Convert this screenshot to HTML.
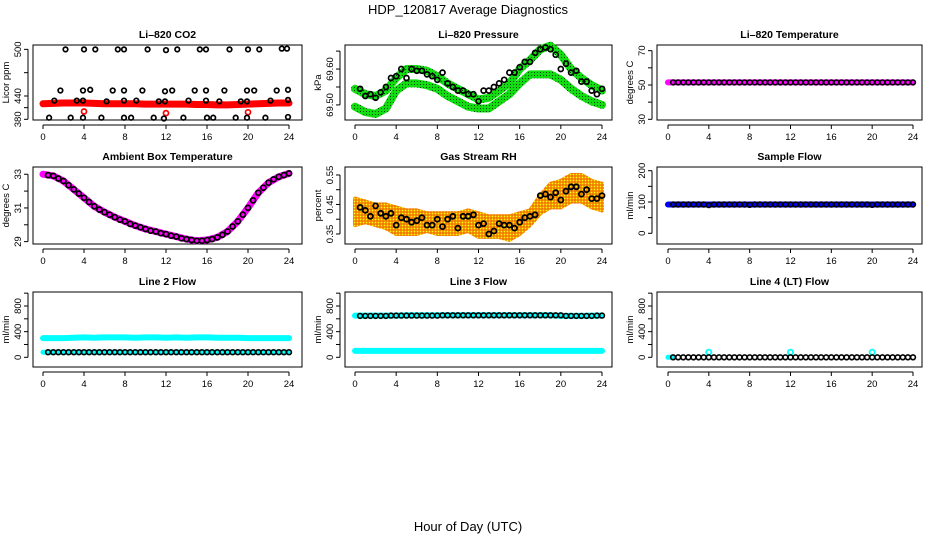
<!DOCTYPE html>
<html><head><meta charset="utf-8">
<style>
html,body{margin:0;padding:0;background:#fff;}
svg{display:block;font-family:"Liberation Sans",sans-serif;}
</style></head>
<body>
<svg id="fig" width="936" height="540" viewBox="0 0 936 540" xmlns="http://www.w3.org/2000/svg">
<defs>
<pattern id="dotsG" width="3" height="3" patternUnits="userSpaceOnUse"><rect width="3" height="3" fill="#11dd11"/><rect width="1" height="1" fill="#004400"/></pattern>
<pattern id="dotsO" width="3" height="3" patternUnits="userSpaceOnUse"><rect width="3" height="3" fill="#f4a000"/><rect width="1" height="1" fill="#ffff00"/><rect x="1.5" y="1.5" width="1" height="1" fill="#ee2200"/></pattern>
</defs>
<text x="468" y="14" text-anchor="middle" font-size="13">HDP_120817  Average Diagnostics</text>
<text x="468" y="531" text-anchor="middle" font-size="13">Hour of Day (UTC)</text>
</svg>
<script>
// ---- data ----
const xTicks = [0,4,8,12,16,20,24];
const halfHours = [0.5,1,1.5,2,2.5,3,3.5,4,4.5,5,5.5,6,6.5,7,7.5,8,8.5,9,9.5,10,10.5,11,11.5,12,12.5,13,13.5,14,14.5,15,15.5,16,16.5,17,17.5,18,18.5,19,19.5,20,20.5,21,21.5,22,22.5,23,23.5,24];
const hours = [0,1,2,3,4,5,6,7,8,9,10,11,12,13,14,15,16,17,18,19,20,21,22,23,24];

// Li-820 CO2
const co2Hours = [2.2,4.0,5.1,7.3,7.9,10.2,12.0,13.1,15.3,15.9,18.2,20.0,21.1,23.3,23.8,
 1.7,3.9,4.6,6.8,7.9,9.7,11.9,12.6,14.8,15.9,17.7,19.9,20.6,22.8,23.9,
 1.1,3.3,3.9,6.2,7.9,9.1,11.3,11.9,14.2,15.9,17.2,19.3,19.9,22.2,23.9,
 0.6,2.7,3.9,5.7,7.9,8.6,10.8,11.8,13.7,16.0,16.6,18.8,19.9,21.7,23.9];
const co2Values = [500,500,500,500,500,500,499,500,500,500,500,500,500,501,501,
 447,447,448,447,447,447,446,447,447,447,447,447,447,447,448,
 434,434,434,433,434,434,433,433,434,434,433,433,433,434,435,
 412,412,412,412,412,412,412,411,412,412,412,412,412,412,413];
const co2Band = [430,430.5,431,431,431,430.5,430,430,430,430,429.5,429.5,429.5,429.5,429.5,429,429,428.5,428.5,429,429.5,430,430.5,431,431];
const co2OutHours = [4.0,12.0,20.0];
const co2OutValues = [420,418,419];

// Li-820 Pressure
const presUpper = [69.545,69.53,69.525,69.54,69.575,69.60,69.60,69.595,69.58,69.56,69.545,69.53,69.515,69.52,69.54,69.56,69.60,69.625,69.655,69.665,69.64,69.60,69.575,69.555,69.54];
const presLower = [69.495,69.48,69.475,69.49,69.54,69.56,69.56,69.555,69.545,69.525,69.51,69.495,69.49,69.49,69.51,69.53,69.56,69.585,69.585,69.585,69.57,69.545,69.525,69.51,69.50];
const presMean = [69.545,69.525,69.53,69.52,69.535,69.55,69.575,69.58,69.60,69.575,69.60,69.595,69.595,69.585,69.58,69.57,69.59,69.56,69.55,69.54,69.54,69.53,69.53,69.51,69.54,69.54,69.55,69.56,69.57,69.59,69.59,69.605,69.62,69.62,69.645,69.655,69.66,69.655,69.64,69.60,69.615,69.59,69.595,69.565,69.565,69.54,69.53,69.545];

// Li-820 Temperature
const tempBand = [51.5,51.5,51.5,51.5,51.5,51.5,51.5,51.5,51.5,51.5,51.5,51.5,51.5,51.5,51.5,51.5,51.5,51.5,51.5,51.5,51.5,51.5,51.5,51.5,51.5];
const tempMean = [51.5,51.5,51.5,51.5,51.5,51.5,51.5,51.5,51.5,51.5,51.5,51.5,51.5,51.5,51.5,51.5,51.5,51.5,51.5,51.5,51.5,51.5,51.5,51.5,51.5,51.5,51.5,51.5,51.5,51.5,51.5,51.5,51.5,51.5,51.5,51.5,51.5,51.5,51.5,51.5,51.5,51.5,51.5,51.5,51.5,51.5,51.5,51.5];

// Ambient Box Temperature
const ambBand = [33.0,32.9,32.6,32.1,31.6,31.1,30.75,30.45,30.2,29.95,29.75,29.6,29.45,29.3,29.15,29.05,29.1,29.25,29.6,30.2,31.0,31.9,32.5,32.85,33.05];
const ambMean = [32.95,32.9,32.75,32.6,32.35,32.1,31.85,31.6,31.35,31.1,30.9,30.75,30.6,30.45,30.3,30.2,30.05,29.95,29.85,29.75,29.65,29.6,29.5,29.45,29.35,29.3,29.2,29.15,29.1,29.05,29.05,29.1,29.15,29.25,29.4,29.6,29.9,30.2,30.6,31.0,31.45,31.9,32.2,32.5,32.7,32.85,32.95,33.05];

// Gas Stream RH
const rhUpper = [0.47,0.46,0.45,0.45,0.44,0.43,0.43,0.42,0.42,0.42,0.42,0.43,0.42,0.41,0.41,0.41,0.42,0.43,0.48,0.52,0.53,0.55,0.55,0.53,0.52];
const rhLower = [0.38,0.39,0.38,0.37,0.35,0.35,0.35,0.36,0.35,0.35,0.35,0.36,0.34,0.34,0.34,0.33,0.35,0.38,0.42,0.44,0.44,0.46,0.46,0.44,0.43];
const rhMean = [0.44,0.43,0.41,0.445,0.42,0.41,0.42,0.38,0.405,0.40,0.39,0.395,0.405,0.38,0.38,0.40,0.375,0.40,0.41,0.37,0.41,0.41,0.415,0.38,0.385,0.35,0.36,0.385,0.38,0.38,0.37,0.39,0.405,0.41,0.415,0.48,0.485,0.475,0.49,0.465,0.495,0.51,0.51,0.485,0.50,0.47,0.47,0.48];

// Sample Flow
const sfBand = [92,92,92,92,92,92,92,92,92,92,92,92,92,92,92,92,92,92,92,92,92,92,92,92,92];
const sfMean = [92,92,92,92,92,92,92,90,92,92,92,92,92,92,92,91,92,92,92,92,92,92,92,92,92,92,92,92,92,92,92,92,92,92,92,92,92,92,92,91,92,92,92,92,92,92,92,92];

// Line 2 Flow
const l2Upper = [300,300,300,305,310,305,310,310,310,305,310,310,305,310,305,310,310,305,305,305,300,300,300,300,300];
const l2Lower = [80,80,80,80,80,80,80,80,80,80,80,80,80,80,80,80,80,80,80,80,80,80,80,80,80];
const l2Mean = [80,80,80,80,80,80,80,80,80,80,80,80,80,80,80,80,80,80,80,80,80,80,80,80,80,80,80,80,80,80,80,80,80,80,80,80,80,80,80,80,80,80,80,80,80,80,80,80];

// Line 3 Flow
const l3Upper = [650,650,650,650,650,655,655,655,655,655,655,655,655,655,655,655,655,655,655,655,645,645,645,650,650];
const l3Lower = [100,100,100,100,100,100,100,100,100,100,100,100,100,100,100,100,100,100,100,100,100,100,100,100,100];
const l3Mean = [645,645,645,645,645,645,650,650,650,650,650,650,650,650,650,650,655,655,655,655,655,655,655,655,655,655,655,655,655,655,655,655,655,655,655,655,655,655,655,655,645,645,645,645,645,645,650,650];

// Line 4 (LT) Flow
const l4Band = [0,0];
const l4BandHours = [0,0.4];
const l4Mean = [0,0,0,0,0,0,0,0,0,0,0,0,0,0,0,0,0,0,0,0,0,0,0,0,0,0,0,0,0,0,0,0,0,0,0,0,0,0,0,0,0,0,0,0,0,0,0,0];
const l4OutHours = [4,12,20];
const l4OutValues = [80,80,80];

// ---- drawing ----
const NS = "http://www.w3.org/2000/svg";
const svg = document.getElementById('fig');
function mk(tag, attrs, parent){ const e=document.createElementNS(NS,tag); for(const k in attrs) e.setAttribute(k,attrs[k]); (parent||svg).appendChild(e); return e; }

const cols = [{l:33,r:302,x0:43,x24:289},{l:345,r:612,x0:355,x24:602},{l:657,r:922,x0:668,x24:913}];
const rows = [{t:45,b:120},{t:167,b:244},{t:292,b:367}];

function panel(ci, ri, name, title, ylab, yTop, yBot, yTicks, yLabels){
  const c=cols[ci], r=rows[ri];
  const g = mk('g',{});
  
  
  const xs = h => c.x0 + (c.x24-c.x0)*h/24;
  const ys = v => r.b - (v-yBot)/(yTop-yBot)*(r.b-r.t);
  const t = mk('text',{x:(c.l+c.r)/2,y:r.t-7,'text-anchor':'middle','font-size':'10.5','font-weight':'bold'},g);
  t.textContent = title;
  
  
  const box = mk('rect',{x:c.l,y:r.t,width:c.r-c.l,height:r.b-r.t,fill:'none',stroke:'#000','stroke-width':1},g);
  
  
  const xa = mk('g',{},g);
  
  
  mk('line',{x1:xs(0),x2:xs(24),y1:r.b+5,y2:r.b+5,stroke:'#000'},xa);
  xTicks.forEach(h=>{
    mk('line',{x1:xs(h),x2:xs(h),y1:r.b+5,y2:r.b+9,stroke:'#000'},xa);
    const tl = mk('text',{x:xs(h),y:r.b+20,'text-anchor':'middle','font-size':'9.5'},xa);
    tl.textContent = h;
  });
  const ya = mk('g',{},g);
  
  
  mk('line',{x1:c.l-5,x2:c.l-5,y1:ys(yTicks[0]),y2:ys(yTicks[yTicks.length-1]),stroke:'#000'},ya);
  yTicks.forEach((v,i)=>{
    mk('line',{x1:c.l-9,x2:c.l-5,y1:ys(v),y2:ys(v),stroke:'#000'},ya);
    if(yLabels[i]!==''){
      const yl = mk('text',{x:0,y:0,'text-anchor':'middle','font-size':'9.5',transform:`translate(${c.l-12},${ys(v)}) rotate(-90)`},ya);
      yl.textContent = yLabels[i];
    }
  });
  const yt = mk('text',{x:0,y:0,'text-anchor':'middle','font-size':'9.5',transform:`translate(${c.l-24},${(r.t+r.b)/2}) rotate(-90)`},g);
  yt.textContent = ylab;
  
  
  return {g,xs,ys};
}
function band(p, name, hs, vals, color, w){
  const d = hs.map((h,i)=>(i?'L':'M')+p.xs(h).toFixed(1)+','+p.ys(vals[i]).toFixed(1)).join('');
  const e = mk('path',{d:d,fill:'none',stroke:color,'stroke-width':w,'stroke-linecap':'round','stroke-linejoin':'round'},p.g);
  
  
}
function area(p, name, hs, up, lo, fill){
  let d = hs.map((h,i)=>(i?'L':'M')+p.xs(h).toFixed(1)+','+p.ys(up[i]).toFixed(1)).join('');
  for(let i=hs.length-1;i>=0;i--) d += 'L'+p.xs(hs[i]).toFixed(1)+','+p.ys(lo[i]).toFixed(1);
  const e = mk('path',{d:d+'Z',fill:fill,stroke:fill,'stroke-width':4,'stroke-linejoin':'round'},p.g);
  
  
}
function circles(p, name, hs, vals, color, rad, sw){
  const g = mk('g',{},p.g);
  
  
  hs.forEach((h,i)=>{
    const c = mk('circle',{cx:p.xs(h).toFixed(1),cy:p.ys(vals[i]).toFixed(1),r:rad,fill:'none',stroke:color,'stroke-width':sw},g);
    
    
  });
}

// Panel 1: CO2
let p = panel(0,0,'co2-panel','Li\u2013820 CO2','Licor ppm',505.6,409.1,[410,425,440,470,500],['380','','440','','500']);
band(p,'co2-red-band',hours,co2Band,'#ff0000',7);
circles(p,'co2-red-outliers',co2OutHours,co2OutValues,'#ff0000',2.5,1.7);
circles(p,'co2-black-points',co2Hours,co2Values,'#000',2.3,1.7);

// Panel 2: Pressure
p = panel(1,0,'pressure-panel','Li\u2013820 Pressure','kPa',69.667,69.458,[69.5,69.55,69.6,69.65],['69.50','','69.60','']);
band(p,'pressure-upper-band',hours,presUpper,'url(#dotsG)',8);
band(p,'pressure-lower-band',hours,presLower,'url(#dotsG)',8);
circles(p,'pressure-mean-points',halfHours,presMean,'#000',2.5,1.7);

// Panel 3: Li-820 Temperature
p = panel(2,0,'li820-temp-panel','Li\u2013820 Temperature','degrees C',73.3,29.6,[30,40,50,60,70],['30','','50','','70']);
band(p,'li820-temp-band',hours,tempBand,'#ff00ff',6);
circles(p,'li820-temp-points',halfHours,tempMean,'#000',2.4,1.6);

// Panel 4: Ambient
p = panel(0,1,'ambient-temp-panel','Ambient Box Temperature','degrees C',33.43,28.86,[29,30,31,32,33],['29','','31','','33']);
band(p,'ambient-temp-band',hours,ambBand,'#ff00ff',7);
circles(p,'ambient-temp-points',halfHours,ambMean,'#000',2.5,1.7);

// Panel 5: RH
p = panel(1,1,'rh-panel','Gas Stream RH','percent',0.577,0.316,[0.35,0.40,0.45,0.50,0.55],['0.35','','0.45','','0.55']);
area(p,'rh-cloud',hours,rhUpper,rhLower,'url(#dotsO)');
circles(p,'rh-mean-points',halfHours,rhMean,'#000',2.5,1.8);

// Panel 6: Sample flow
p = panel(2,1,'sample-flow-panel','Sample Flow','ml/min',211.8,-34.2,[0,50,100,150,200],['0','','100','','200']);
band(p,'sample-flow-band',hours,sfBand,'#0000ff',6);
circles(p,'sample-flow-points',halfHours,sfMean,'#000',2.4,1.6);

// Panel 7: Line 2
p = panel(0,2,'line2-flow-panel','Line 2 Flow','ml/min',1018,-151,[0,200,400,600,800,1000],['0','','400','','800','']);
band(p,'line2-upper-band',hours,l2Upper,'#00ffff',6);
band(p,'line2-lower-band',hours,l2Lower,'#00ffff',5);
circles(p,'line2-points',halfHours,l2Mean,'#000',2.4,1.6);

// Panel 8: Line 3
p = panel(1,2,'line3-flow-panel','Line 3 Flow','ml/min',1018,-151,[0,200,400,600,800,1000],['0','','400','','800','']);
band(p,'line3-upper-band',hours,l3Upper,'#00ffff',6);
band(p,'line3-lower-band',hours,l3Lower,'#00ffff',6);
circles(p,'line3-points',halfHours,l3Mean,'#000',2.4,1.6);

// Panel 9: Line 4
p = panel(2,2,'line4-flow-panel','Line 4 (LT) Flow','ml/min',1018,-151,[0,200,400,600,800,1000],['0','','400','','800','']);
band(p,'line4-band',l4BandHours,l4Band,'#00ffff',5);
circles(p,'line4-outliers',l4OutHours,l4OutValues,'#00ffff',2.6,1.8);
circles(p,'line4-points',halfHours,l4Mean,'#000',2.4,1.6);
</script>
</body></html>
